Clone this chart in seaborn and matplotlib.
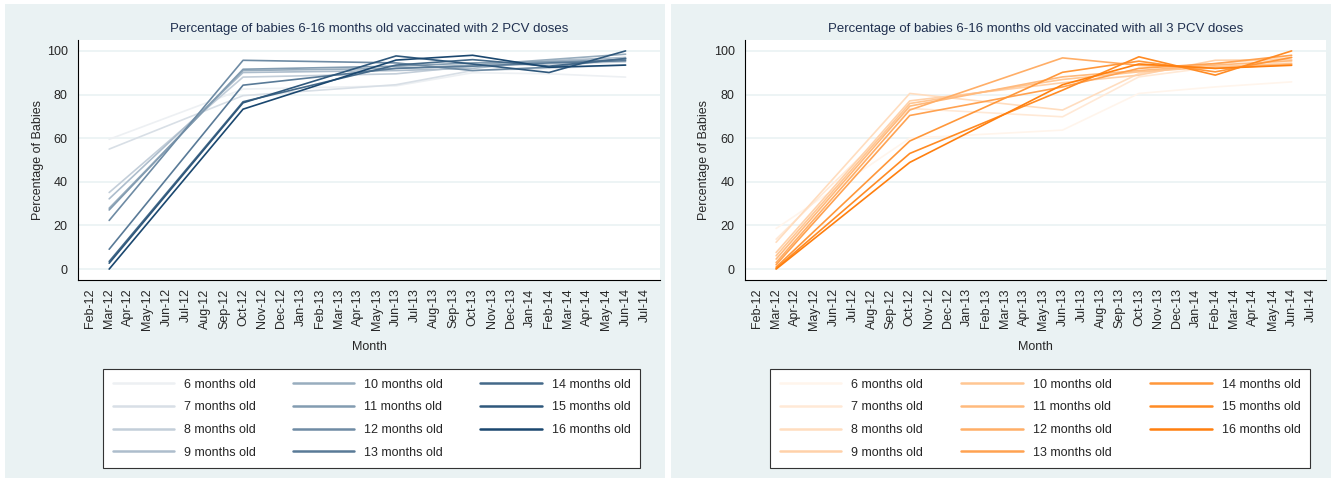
import numpy as np
import pandas as pd
import matplotlib.pyplot as plt
import seaborn as sns
from matplotlib.patches import Rectangle
from matplotlib.colors import to_rgb

# x axis: every month shown on the axis
month_labels = ["Feb-12", "Mar-12", "Apr-12", "May-12", "Jun-12", "Jul-12", "Aug-12", "Sep-12",
                "Oct-12", "Nov-12", "Dec-12", "Jan-13", "Feb-13", "Mar-13", "Apr-13", "May-13",
                "Jun-13", "Jul-13", "Aug-13", "Sep-13", "Oct-13", "Nov-13", "Dec-13", "Jan-14",
                "Feb-14", "Mar-14", "Apr-14", "May-14", "Jun-14", "Jul-14"]

# months where a survey was done
survey_months = ["Mar-12", "Oct-12", "Jun-13", "Oct-13", "Feb-14", "Jun-14"]

ages = [6, 7, 8, 9, 10, 11, 12, 13, 14, 15, 16]

# percentage vaccinated with 2 PCV doses, one list per age
two_doses = {
    6:  [59.5, 82.5, 84.0, 90.0, 89.5, 88.0],
    7:  [55.0, 79.5, 84.5, 91.0, 92.0, 93.5],
    8:  [35.1, 88.0, 89.5, 93.0, 94.0, 95.0],
    9:  [32.2, 90.1, 91.0, 92.0, 95.5, 97.0],
    10: [27.9, 91.0, 92.0, 93.5, 96.0, 98.5],
    11: [27.1, 91.6, 93.0, 94.5, 95.0, 96.0],
    12: [22.3, 95.7, 94.5, 91.0, 92.5, 96.5],
    13: [9.1, 84.3, 92.0, 93.0, 94.5, 95.5],
    14: [3.5, 76.7, 93.5, 96.0, 93.0, 96.5],
    15: [2.7, 76.2, 97.7, 94.0, 90.1, 100.0],
    16: [0.0, 73.3, 95.8, 98.0, 92.5, 93.5],
}

# percentage vaccinated with all 3 PCV doses
three_doses = {
    6:  [18.6, 60.0, 63.7, 80.5, 83.5, 85.8],
    7:  [13.7, 73.6, 69.8, 88.1, 92.7, 95.0],
    8:  [12.3, 80.5, 72.9, 89.6, 94.2, 97.0],
    9:  [7.6, 77.1, 85.4, 88.9, 95.7, 96.0],
    10: [6.1, 75.9, 86.9, 90.4, 92.7, 94.2],
    11: [4.6, 74.7, 88.1, 91.0, 93.5, 95.5],
    12: [3.0, 72.9, 96.8, 93.4, 92.0, 93.8],
    13: [2.0, 70.4, 83.5, 92.0, 94.2, 98.0],
    14: [0.9, 58.7, 90.2, 95.3, 90.4, 97.0],
    15: [0.3, 53.0, 82.0, 97.3, 88.9, 100.0],
    16: [0.0, 48.9, 84.5, 94.0, 92.0, 93.4],
}

titles = ["Percentage of babies 6-16 months old vaccinated with 2 PCV doses",
          "Percentage of babies 6-16 months old vaccinated with all 3 PCV doses"]

BG = "#eaf2f3"
W, H = 1335, 482


def to_long(d):
    rows = []
    for age in ages:
        for m, v in zip(survey_months, d[age]):
            rows.append({"pos": month_labels.index(m), "pct": v, "age": f"{age} months old"})
    return pd.DataFrame(rows)


def shades(base):
    # blend the base colour with white, light for young babies, full for old
    base = np.array(to_rgb(base))
    strength = np.linspace(0.08, 1.0, len(ages))
    return [tuple(1 - s * (1 - base)) for s in strength]


sns.set_style("white")
plt.rcParams["font.family"] = ["Liberation Sans", "DejaVu Sans"]

fig = plt.figure(figsize=(W / 100, H / 100), dpi=100)
fig.patch.set_facecolor("white")

panels = [
    # panel box x0, x1 / axes x0, x1 / legend x0, x1
    ((5, 665), (78, 660), (97, 646)),
    ((671, 1331), (745, 1326), (764, 1316)),
]
datasets = [two_doses, three_doses]
bases = ["#1a476f", "#ff7f0e"]

for (box, axx, legx), d, base, title in zip(panels, datasets, bases, titles):
    fig.add_artist(Rectangle((box[0] / W, 4 / H), (box[1] - box[0]) / W, 474 / H,
                             transform=fig.transFigure, facecolor=BG, edgecolor="none", zorder=-10))
    ax = fig.add_axes([axx[0] / W, (H - 280) / H, (axx[1] - axx[0]) / W, 240 / H])
    ax.set_facecolor("white")

    df = to_long(d)
    sns.lineplot(data=df, x="pos", y="pct", hue="age", palette=shades(base),
                 estimator=None, sort=False, linewidth=1.2, ax=ax)

    ax.set_xlim(-0.63, 29.8)
    ax.set_ylim(-5, 105)
    ax.set_yticks([0, 20, 40, 60, 80, 100])
    ax.set_xticks(range(len(month_labels)))
    ax.set_xticklabels(month_labels, rotation=90, fontsize=9)
    ax.tick_params(axis="y", labelsize=9, length=4, width=0.8, color="black", direction="out")
    ax.tick_params(axis="x", length=4, width=0.8, color="black", direction="out", pad=2)
    ax.yaxis.grid(True, color=BG, linewidth=1.2)
    ax.set_axisbelow(True)
    for s in ["top", "right"]:
        ax.spines[s].set_visible(False)
    for s in ["left", "bottom"]:
        ax.spines[s].set_color("black")
        ax.spines[s].set_linewidth(0.8)

    ax.set_title(title, fontsize=9.5, color="#1f2f4f", pad=6)
    ax.set_ylabel("Percentage of Babies", fontsize=9)
    ax.set_xlabel("Month", fontsize=9)
    span = axx[1] - axx[0]
    ax.yaxis.set_label_coords((box[0] + 39 - axx[0]) / span, 0.5)
    ax.xaxis.set_label_coords(0.5, (280 - 341) / 240)

    handles, labels = ax.get_legend_handles_labels()
    ax.get_legend().remove()
    leg = fig.legend(handles, labels, ncol=3, loc="upper left", mode="expand",
                     bbox_to_anchor=(legx[0] / W, (H - 363) / H, (legx[1] - legx[0]) / W, 0),
                     bbox_transform=fig.transFigure, fontsize=9, frameon=True, fancybox=False,
                     framealpha=1, handlelength=4.9, handletextpad=0.8, labelspacing=0.85,
                     borderpad=0.75, columnspacing=2.0)
    leg.get_frame().set_edgecolor("#333333")
    leg.get_frame().set_linewidth(0.8)
    for line in leg.get_lines():
        line.set_linewidth(1.8)

fig.savefig("out.png", dpi=100, facecolor="white")
